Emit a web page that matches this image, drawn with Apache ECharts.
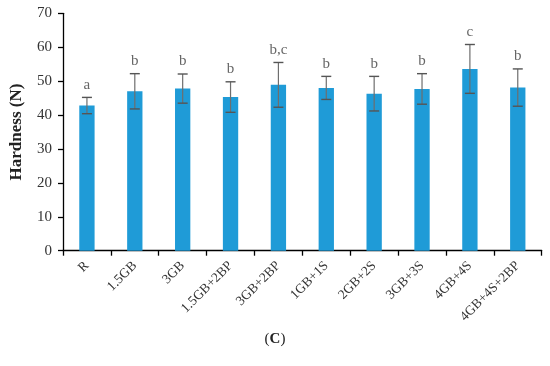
<!DOCTYPE html>
<html>
<head>
<meta charset="utf-8">
<script src="https://cdn.jsdelivr.net/npm/echarts@6/dist/echarts.min.js"></script>
<style>html,body{margin:0;padding:0;background:#fff}#c{width:550px;height:366px}</style>
</head>
<body>
<div id="c"></div>
<script>
const categories = ['R','1.5GB','3GB','1.5GB+2BP','3GB+2BP','1GB+1S','2GB+2S','3GB+3S','4GB+4S','4GB+4S+2BP'];
const hardness = [42.8, 47.0, 47.8, 45.3, 48.9, 48.0, 46.3, 47.7, 53.6, 48.1];
const errors = [2.4, 5.2, 4.3, 4.5, 6.6, 3.4, 5.1, 4.5, 7.2, 5.5];
const letters = ['a','b','b','b','b,c','b','b','b','c','b'];
const yTicks = [0,10,20,30,40,50,60,70];

const FONT = '"Liberation Serif","DejaVu Serif",serif';
const chart = echarts.init(document.getElementById('c'), null, {renderer:'canvas'});
const errData = categories.map((c,i)=>[i, hardness[i]-errors[i], hardness[i]+errors[i], letters[i]]);

chart.setOption({
  animation:false,
  grid:{left:57.7, right:8.3, top:13.3, bottom:115.3, containLabel:false},
  xAxis:{
    type:'category', data:categories,
    axisLine:{lineStyle:{color:'#000', width:1.3}},
    axisTick:{show:true, length:5, lineStyle:{color:'#000', width:1.3}},
    axisLabel:{rotate:45, color:'#333', fontFamily:FONT, fontSize:13.5, margin:13, interval:0}
  },
  yAxis:{
    type:'value', min:0, max:70, interval:10,
    name:'Hardness (N)', nameLocation:'middle', nameGap:38,
    nameTextStyle:{fontFamily:FONT, fontSize:17, fontWeight:'bold', color:'#222'},
    axisLine:{show:true, lineStyle:{color:'#000', width:1.3}},
    axisTick:{show:true, length:5, lineStyle:{color:'#000', width:1.3}},
    splitLine:{show:false},
    axisLabel:{color:'#333', fontFamily:FONT, fontSize:15, margin:11,
      formatter:v=>yTicks.includes(v)?String(v):''}
  },
  series:[
    {type:'bar', data:hardness, barWidth:'32%',
     itemStyle:{color:'#1f9bd7'}},
    {type:'custom', data:errData, z:5,
     renderItem:function(params, api){
       const x = api.value(0);
       const lo = api.coord([x, api.value(1)]);
       const hi = api.coord([x, api.value(2)]);
       const cw = 5;
       return {type:'group', children:[
         {type:'line', shape:{x1:hi[0], y1:hi[1], x2:lo[0], y2:lo[1]}, style:{stroke:'#6e6e6e', lineWidth:1.2}},
         {type:'line', shape:{x1:hi[0]-cw, y1:hi[1], x2:hi[0]+cw, y2:hi[1]}, style:{stroke:'#555', lineWidth:1.4}},
         {type:'line', shape:{x1:lo[0]-cw, y1:lo[1], x2:lo[0]+cw, y2:lo[1]}, style:{stroke:'#555', lineWidth:1.4}},
         {type:'text', x:hi[0], y:hi[1]-5, style:{text:api.value(3), fill:'#666', font:'15px '+FONT, align:'center', verticalAlign:'bottom'}}
       ]};
     }}
  ],
  graphic:[{
    type:'text', left:'center', top:332,
    style:{
      text:'({b|C})', fill:'#222', font:'15px '+FONT,
      rich:{b:{fontWeight:'bold', fontFamily:FONT, fontSize:15, fill:'#222'}}
    }
  }]
});
</script>
</body>
</html>
